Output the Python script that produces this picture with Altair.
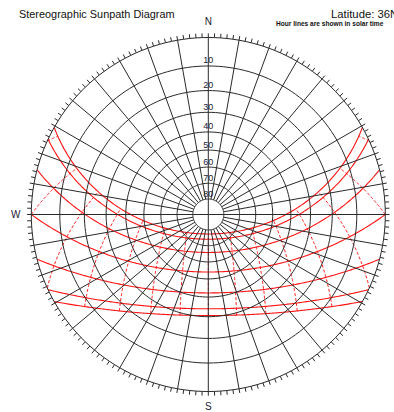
import numpy as np
import pandas as pd
import altair as alt

# ---- diagram settings -------------------------------------------------------
LATITUDE = 36.0
# monthly sun-path declinations (21st of each month), degrees
DECLINATIONS = [23.45, 20.1, 11.8, 0.0, -11.8, -20.1, -23.45]
# solar hours drawn as dashed hour lines
SOLAR_HOURS = [5, 6, 7, 8, 9, 10, 11, 12, 13, 14, 15, 16, 17, 18, 19]
# altitude rings (0 = horizon) and their labels
ALTITUDE_RINGS = [0, 10, 20, 30, 40, 50, 60, 70, 80]
ALTITUDE_LABELS = [10, 20, 30, 40, 50, 60, 70, 80]
# azimuth spokes every 10 degrees, rim ticks every 2 degrees
AZIMUTH_SPOKES = list(range(0, 360, 10))
RIM_TICKS = list(range(0, 360, 2))
COMPASS_TEXT = ["N", "S", "W"]
COMPASS_AZ = [0, 180, 270]

GRID = "#2a2a2a"
SUN = "#ff1414"
FONT = "Liberation Sans"
COMPASS_OFFSET = -4.8   # compass letters sit just outside the horizon ring
TICK_LEN = -1.35        # rim ticks reach slightly below the horizon


def to_lon(az):
    """Azimuth (clockwise from north) -> projection longitude (N up, E right)."""
    return 180.0 - np.asarray(az, dtype=float)


def sun_position(dec, ha):
    """Elevation/azimuth of the sun for declination and hour angle (deg)."""
    p, d, h = np.radians(LATITUDE), np.radians(dec), np.radians(ha)
    sin_el = np.sin(p) * np.sin(d) + np.cos(p) * np.cos(d) * np.cos(h)
    elev = np.degrees(np.arcsin(np.clip(sin_el, -1, 1)))
    az = np.degrees(np.arctan2(-np.sin(h) * np.cos(d),
                               np.sin(d) * np.cos(p) - np.cos(d) * np.sin(p) * np.cos(h)))
    return np.maximum(elev, 0.0), np.mod(az, 360.0)


# ---- altitude rings ---------------------------------------------------------
ring_rows = []
ring_az = np.arange(0, 361, 2)
for a in ALTITUDE_RINGS:
    for i, az in enumerate(ring_az):
        ring_rows.append({"key": f"r{a}", "i": i, "lon": float(to_lon(az)), "lat": float(a)})
rings = pd.DataFrame(ring_rows)

# ---- spokes: 80 deg ring to horizon, the four cardinal axes through centre --
spoke_rows = []
for az in AZIMUTH_SPOKES:
    inner = 80.0 if az % 90 else 90.0
    spoke_rows.append({"lon": float(to_lon(az)), "lat": inner,
                       "lon2": float(to_lon(az)), "lat2": 0.0})
spokes = pd.DataFrame(spoke_rows)

# ---- rim ticks pointing outward ---------------------------------------------
ticks = pd.DataFrame({"lon": to_lon(RIM_TICKS), "lat": 0.0, "lat2": TICK_LEN})

# ---- sun-path (declination) curves ------------------------------------------
path_rows = []
tp = np.tan(np.radians(LATITUDE))
for d in DECLINATIONS:
    h0 = np.degrees(np.arccos(np.clip(-tp * np.tan(np.radians(d)), -1, 1)))
    ha = np.linspace(-h0, h0, 241)
    elev, az = sun_position(d, ha)
    for i in range(len(ha)):
        path_rows.append({"key": f"d{d}", "i": i,
                          "lon": float(to_lon(az[i])), "lat": float(elev[i])})
paths = pd.DataFrame(path_rows)

# ---- hour lines (solar time) ------------------------------------------------
hour_rows = []
dmin, dmax = min(DECLINATIONS), max(DECLINATIONS)
for hr in SOLAR_HOURS:
    ha = 15.0 * (hr - 12)
    dc = np.degrees(np.arctan(-np.cos(np.radians(ha)) / tp))
    lo = max(dmin, dc)
    if lo >= dmax:
        continue
    decs = np.linspace(lo, dmax, 80)
    elev, az = sun_position(decs, ha)
    for i in range(len(decs)):
        hour_rows.append({"key": f"h{hr}", "i": i,
                          "lon": float(to_lon(az[i])), "lat": float(elev[i])})
hours = pd.DataFrame(hour_rows)

# ---- labels -----------------------------------------------------------------
alt_labels = pd.DataFrame({"lon": 180.0, "lat": ALTITUDE_LABELS,
                           "txt": [str(v) for v in ALTITUDE_LABELS]})
compass = pd.DataFrame({"lon": to_lon(COMPASS_AZ), "lat": COMPASS_OFFSET,
                        "txt": COMPASS_TEXT})

PROJ = dict(type="stereographic", scale=177, translate=[208.3, 214.5],
            rotate=[0, -90, 0])

sun_paths = alt.Chart(paths).mark_line(color=SUN, strokeWidth=1.1).encode(
    longitude="lon:Q", latitude="lat:Q", detail="key:N", order="i:Q"
).project(**PROJ)

hour_lines = alt.Chart(hours).mark_line(color=SUN, strokeWidth=1, strokeDash=[3, 2]).encode(
    longitude="lon:Q", latitude="lat:Q", detail="key:N", order="i:Q"
).project(**PROJ)

ring_lines = alt.Chart(rings).mark_line(color=GRID, strokeWidth=1).encode(
    longitude="lon:Q", latitude="lat:Q", detail="key:N", order="i:Q"
).project(**PROJ)

spoke_lines = alt.Chart(spokes).mark_rule(color=GRID, strokeWidth=1).encode(
    longitude="lon:Q", latitude="lat:Q", longitude2="lon2:Q", latitude2="lat2:Q"
).project(**PROJ)

tick_lines = alt.Chart(ticks).mark_rule(color=GRID, strokeWidth=1).encode(
    longitude="lon:Q", latitude="lat:Q", longitude2="lon:Q", latitude2="lat2:Q"
).project(**PROJ)

ring_text = alt.Chart(alt_labels).mark_text(
    font=FONT, fontSize=9, color="#222233", baseline="alphabetic", dy=-2.5
).encode(longitude="lon:Q", latitude="lat:Q", text="txt:N").project(**PROJ)

compass_text = alt.Chart(compass).mark_text(
    font=FONT, fontSize=10, color="#222233", baseline="middle"
).encode(longitude="lon:Q", latitude="lat:Q", text="txt:N").project(**PROJ)

title_left = alt.Chart(pd.DataFrame({"t": ["Stereographic Sunpath Diagram"]})).mark_text(
    font=FONT, fontSize=10.9, color="#111111", align="left", baseline="alphabetic"
).encode(x=alt.value(19), y=alt.value(17.5), text="t:N")

title_right = alt.Chart(pd.DataFrame({"t": ["Latitude: 36N"]})).mark_text(
    font=FONT, fontSize=11.3, color="#111111", align="left", baseline="alphabetic"
).encode(x=alt.value(331), y=alt.value(17.5), text="t:N")

note = alt.Chart(pd.DataFrame({"t": ["Hour lines are shown in solar time"]})).mark_text(
    font=FONT, fontSize=6.6, fontWeight="bold", color="#111111", align="left",
    baseline="alphabetic"
).encode(x=alt.value(276), y=alt.value(25.5), text="t:N")

chart = alt.layer(
    sun_paths, hour_lines, ring_lines, spoke_lines, tick_lines,
    ring_text, compass_text, title_left, title_right, note
).properties(
    width=394, height=412, padding=0, autosize=alt.AutoSizeParams(type="none"),
    background="white"
).configure_view(stroke=None)

chart.save("out.html", embed_options={"renderer": "svg", "actions": False})
